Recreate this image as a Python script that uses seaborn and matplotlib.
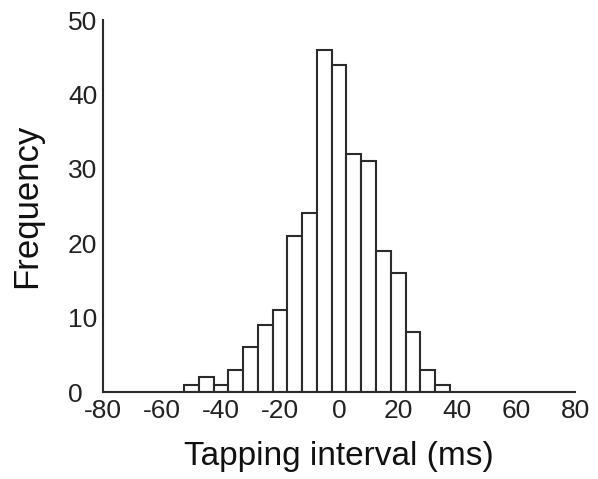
import matplotlib
matplotlib.use("Agg")
import matplotlib.pyplot as plt
import matplotlib.transforms as mtransforms
import seaborn as sns
import pandas as pd

bin_centers = [-50, -45, -40, -35, -30, -25, -20, -15, -10, -5, 0, 5, 10, 15, 20, 25, 30, 35]
counts = [1, 2, 1, 3, 6, 9, 11, 21, 24, 46, 44, 32, 31, 19, 16, 8, 3, 1]
x_ticks = [-80, -60, -40, -20, 0, 20, 40, 60, 80]
y_ticks = [0, 10, 20, 30, 40, 50]

sns.set_style("white")
plt.rcParams['font.family'] = ['Liberation Sans', 'DejaVu Sans']

df = pd.DataFrame({"interval": bin_centers, "count": counts})

fig = plt.figure(figsize=(5.98, 4.79), dpi=100)
ax = fig.add_axes([0.172, 0.1816, 0.79, 0.7766])
ink = "#2b2b2b"
sns.histplot(data=df, x="interval", weights="count", binwidth=5, binrange=(-52.5, 37.5),
             color="white", edgecolor=ink, linewidth=1.5, alpha=1, ax=ax)

ax.set_xlim(-80, 80)
ax.set_ylim(0, 50)
ax.set_xticks(x_ticks)
ax.set_yticks(y_ticks)
ax.set_xticklabels([str(v) for v in x_ticks], fontsize=19)
ax.set_yticklabels([str(v) for v in y_ticks], fontsize=19)
ax.tick_params(direction="in", length=4, width=1.3, color=ink, labelcolor="#222222")
ax.tick_params(axis="x", pad=5)
ax.tick_params(axis="y", pad=4)
ax.set_xlabel("Tapping interval (ms)", fontsize=24, color="#111111", labelpad=13)
ax.set_ylabel("Frequency", fontsize=25, color="#111111", labelpad=18)
for s in ["top", "right"]:
    ax.spines[s].set_visible(False)
for s in ["left", "bottom"]:
    ax.spines[s].set_color(ink)
    ax.spines[s].set_linewidth(1.5)

# shift the y "0" label left, as in the reference, to clear the x "-80" label
zero_lbl = ax.get_yticklabels()[0]
zero_lbl.set_transform(zero_lbl.get_transform() +
                       mtransforms.ScaledTranslation(-15 / 100, 0, fig.dpi_scale_trans))

fig.savefig("out.png", dpi=100)
